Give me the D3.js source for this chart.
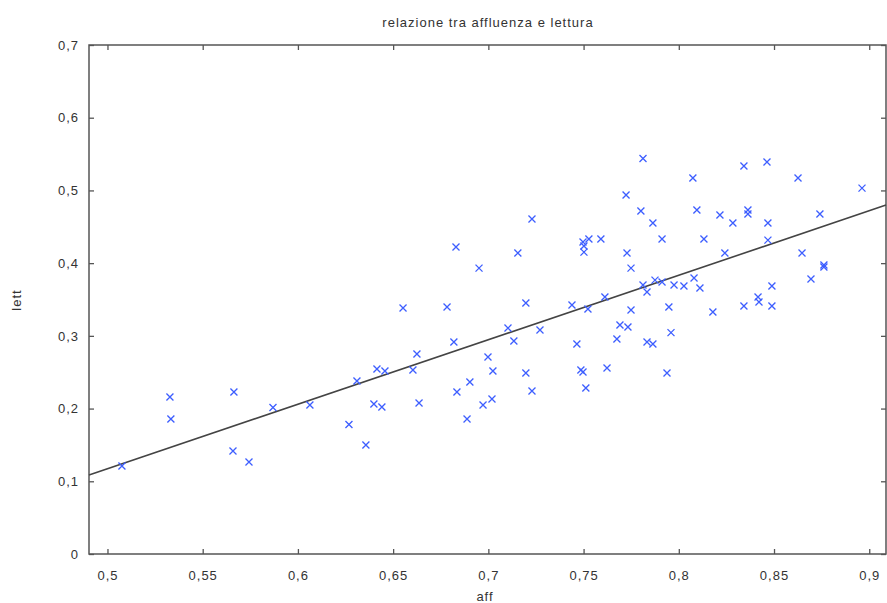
<!DOCTYPE html>
<html>
<head>
<meta charset="utf-8">
<script src="https://cdn.jsdelivr.net/npm/d3@7"></script>
<style>
  body { margin: 0; background: #fff; }
  text { font-family: "Liberation Sans", Arial, sans-serif; fill: #333; }
</style>
</head>
<body>
<div id="chart"></div>
<script>
// affluenza (x) and lettura (y)
var affValues = [0.5076, 0.5328, 0.5333, 0.5664, 0.5659, 0.5743, 0.5869, 0.6063, 0.6268, 0.6310,
  0.6357, 0.6399, 0.6441, 0.6415, 0.6457, 0.6552, 0.6604, 0.6625, 0.6636, 0.6783,
  0.6819, 0.6830, 0.6835, 0.6888, 0.6903, 0.6951, 0.6972, 0.6998, 0.7019, 0.7024,
  0.7103, 0.7134, 0.7155, 0.7197, 0.7197, 0.7229, 0.7229, 0.7271, 0.7439, 0.7465,
  0.7486, 0.7497, 0.7502, 0.7502, 0.7528, 0.7512, 0.7523, 0.7591, 0.7612, 0.7623,
  0.7675, 0.7691, 0.7733, 0.7723, 0.7728, 0.7749, 0.7749, 0.7812, 0.7801, 0.7812,
  0.7833, 0.7833, 0.7864, 0.7864, 0.7875, 0.7912, 0.7912, 0.7938, 0.7948, 0.7959,
  0.7975, 0.8027, 0.8074, 0.8080, 0.8095, 0.8111, 0.8132, 0.8179, 0.8216, 0.8242,
  0.8284, 0.8342, 0.8363, 0.8363, 0.8342, 0.8416, 0.8421, 0.8463, 0.8468, 0.8468,
  0.8489, 0.8489, 0.8626, 0.8647, 0.8694, 0.8741, 0.8762, 0.8762, 0.8962, 0.7497];
var lettValues = [0.1210, 0.2159, 0.1856, 0.2227, 0.1416, 0.1265, 0.2014, 0.2049, 0.1781, 0.2379,
  0.1499, 0.2062, 0.2021, 0.2544, 0.2516, 0.3382, 0.2530, 0.2750, 0.2076, 0.3396,
  0.2915, 0.4221, 0.2227, 0.1856, 0.2365, 0.3932, 0.2049, 0.2709, 0.2131, 0.2516,
  0.3107, 0.2929, 0.4139, 0.3451, 0.2489, 0.2241, 0.4606, 0.3080, 0.3424, 0.2887,
  0.2530, 0.2502, 0.4235, 0.4152, 0.4331, 0.2282, 0.3369, 0.4331, 0.3534, 0.2557,
  0.2956, 0.3149, 0.3121, 0.4936, 0.4139, 0.3932, 0.3355, 0.5438, 0.4716, 0.3699,
  0.3602, 0.2915, 0.2887, 0.4551, 0.3767, 0.4331, 0.3740, 0.2489, 0.3396, 0.3045,
  0.3699, 0.3685, 0.5170, 0.3795, 0.4730, 0.3657, 0.4331, 0.3327, 0.4661, 0.4139,
  0.4551, 0.5335, 0.4730, 0.4675, 0.3410, 0.3534, 0.3465, 0.5390, 0.4551, 0.4317,
  0.3685, 0.3410, 0.5170, 0.4139, 0.3781, 0.4675, 0.3974, 0.3946, 0.5032, 0.4290];

// fitted line, read at the two edges of the plot
var fitX = [0.4903, 0.9088];
var fitY = [0.1086, 0.4799];

var xTicks = [0.5, 0.55, 0.6, 0.65, 0.7, 0.75, 0.8, 0.85, 0.9];
var yTicks = [0, 0.1, 0.2, 0.3, 0.4, 0.5, 0.6, 0.7];

var width = 887, height = 603;
var margin = {top: 45, right: 1, bottom: 49, left: 89};

var it = d3.formatLocale({decimal: ",", thousands: ".", grouping: [3], currency: ["", "€"]});
var fmt = it.format("~r");

var svg = d3.select("#chart").append("svg")
  .attr("width", width)
  .attr("height", height);

var x = d3.scaleLinear().domain([0.4903, 0.9088]).range([margin.left, width - margin.right]);
var y = d3.scaleLinear().domain([0, 0.7]).range([height - margin.bottom, margin.top]);

// ticks point inwards, mirrored on top and right
var axisStyle = function(g){
  g.select(".domain").remove();
  g.selectAll(".tick line").attr("stroke", "#555").attr("stroke-width", 1.3);
  g.selectAll(".tick text").attr("font-size", 13).attr("letter-spacing", "1px").attr("fill", "#333");
};

svg.append("g")
  .attr("transform", "translate(0," + y(0) + ")")
  .call(d3.axisBottom(x).tickValues(xTicks).tickSize(-5).tickPadding(17).tickFormat(fmt))
  .call(axisStyle);
svg.append("g")
  .attr("transform", "translate(0," + y(0.7) + ")")
  .call(d3.axisTop(x).tickValues(xTicks).tickSize(-5).tickFormat(""))
  .call(axisStyle);
svg.append("g")
  .attr("transform", "translate(" + margin.left + ",0)")
  .call(d3.axisLeft(y).tickValues(yTicks).tickSize(-5).tickPadding(10).tickFormat(fmt))
  .call(axisStyle);
svg.append("g")
  .attr("transform", "translate(" + (width - margin.right) + ",0)")
  .call(d3.axisRight(y).tickValues(yTicks).tickSize(-5).tickFormat(""))
  .call(axisStyle);

// frame
svg.append("rect")
  .attr("x", margin.left)
  .attr("y", margin.top)
  .attr("width", width - margin.right - margin.left)
  .attr("height", height - margin.bottom - margin.top)
  .attr("fill", "none")
  .attr("stroke", "#555")
  .attr("stroke-width", 1.5);

// regression line
var fitData = fitX.map(function(d, i){ return [d, fitY[i]]; });
svg.append("path")
  .datum(fitData)
  .attr("d", d3.line().x(function(d){ return x(d[0]); }).y(function(d){ return y(d[1]); }))
  .attr("fill", "none")
  .attr("stroke", "#444")
  .attr("stroke-width", 1.6);

// points as crosses
var points = affValues.map(function(d, i){ return {aff: d, lett: lettValues[i]}; });
svg.append("g").selectAll("path")
  .data(points)
  .enter().append("path")
  .attr("transform", function(d){ return "translate(" + x(d.aff) + "," + y(d.lett) + ")"; })
  .attr("d", "M-3.5,-3.5L3.5,3.5M-3.5,3.5L3.5,-3.5")
  .attr("stroke", "#3d5eff")
  .attr("stroke-width", 1.3)
  .attr("fill", "none");

// titles
svg.append("text")
  .attr("x", 488)
  .attr("y", 27)
  .attr("text-anchor", "middle")
  .attr("font-size", 13)
  .attr("letter-spacing", "1px")
  .text("relazione tra affluenza e lettura");
svg.append("text")
  .attr("x", 485)
  .attr("y", 601)
  .attr("text-anchor", "middle")
  .attr("font-size", 13)
  .attr("letter-spacing", "1px")
  .text("aff");
svg.append("text")
  .attr("transform", "translate(21,300) rotate(-90)")
  .attr("text-anchor", "middle")
  .attr("font-size", 13)
  .attr("letter-spacing", "1px")
  .text("lett");
</script>
</body>
</html>
